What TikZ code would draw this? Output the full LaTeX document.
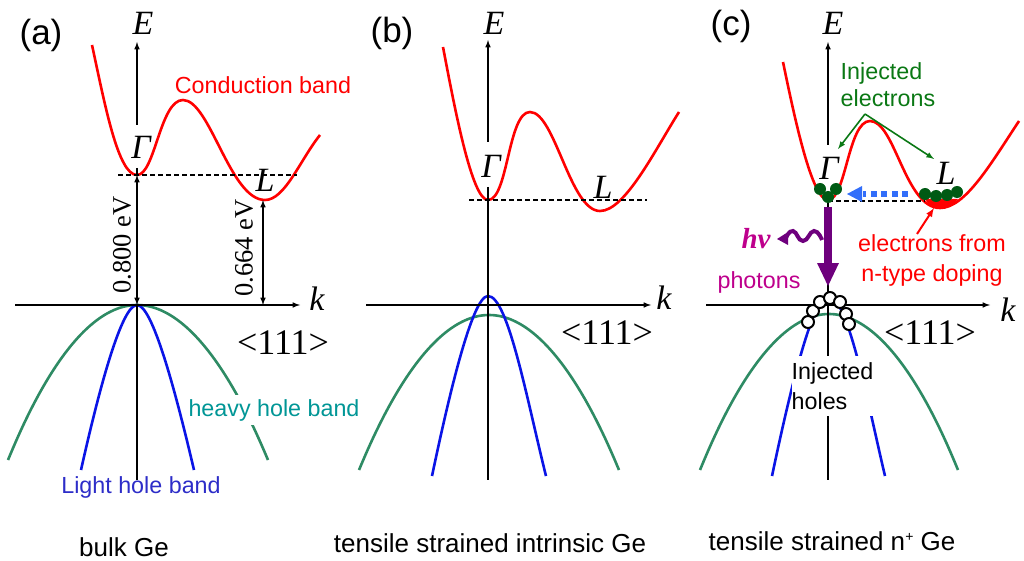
\documentclass[tikz,border=0pt]{standalone}
\usepackage{fontspec}
\setmainfont{Liberation Serif}
\setsansfont{Liberation Sans}
\usepackage{tikz}
\definecolor{hhgreen}{RGB}{46,139,100}
\definecolor{lhblue}{RGB}{10,20,230}
\definecolor{hhteal}{RGB}{0,150,150}
\definecolor{lhtext}{RGB}{45,45,200}
\definecolor{injgreen}{RGB}{10,120,20}
\definecolor{dotgreen}{RGB}{0,90,20}
\definecolor{emitpurple}{RGB}{110,0,125}
\definecolor{hvpink}{RGB}{190,0,140}
\definecolor{shiftblue}{RGB}{50,110,250}
\tikzset{
  axis/.style = {-latex, line width = 1.5pt},
  plainaxis/.style = {line width = 1.5pt},
  gap/.style = {latex-latex, line width = 1.5pt},
  level/.style = {line width = 1.2pt, dash pattern = on 5pt off 3pt},
  cband/.style = {red, line width = 2.6pt},
  hband/.style = {hhgreen, line width = 2.6pt},
  lband/.style = {lhblue, line width = 2.6pt},
  sanslabel/.style = {font = \sffamily\fontsize{23.3}{27}\selectfont, inner sep = 0pt},
  namelabel/.style = {font = \sffamily\fontsize{26}{30}\selectfont, inner sep = 0pt},
  seriflabel/.style = {font = \fontsize{26.5}{30}\selectfont, inner sep = 0pt},
  dirlabel/.style = {font = \fontsize{36}{40}\selectfont, inner sep = 0pt},
  symlabel/.style = {font = \itshape\fontsize{34}{38}\selectfont, inner sep = 0pt},
  panel/.style = {font = \sffamily\fontsize{35}{38}\selectfont, inner sep = 0pt},
  electron/.style = {circle, fill = dotgreen, inner sep = 0pt, minimum size = 12pt},
  hole/.style = {circle, draw = black, fill = white, line width = 2pt, inner sep = 0pt, minimum size = 12pt}
}
\begin{document}
\begin{tikzpicture}[x = 1pt, y = -1pt]
  \useasboundingbox (0, 0) rectangle (1024, 561);
  % panel a
  \coordinate (aTop) at (137, 42);
  \coordinate (aUp) at (137, 125);
  \coordinate (aTick) at (137, 168);
  \coordinate (aMin) at (137, 175);
  \coordinate (aOrg) at (137, 305);
  \coordinate (aLow) at (137, 480);
  \coordinate (aLeft) at (15, 305);
  \coordinate (aRight) at (300, 305);
  \coordinate (aLmin) at (263, 200);
  \coordinate (aLorg) at (263, 305);
  \coordinate (aDa) at (118, 175);
  \coordinate (aDb) at (297, 175);
  \coordinate (aHa) at (8, 460);
  \coordinate (aHb) at (268, 460);
  \coordinate (aLa) at (81, 470);
  \coordinate (aLb) at (194, 470);
  \draw[hband] (aHa) parabola bend (aOrg) (aHb);
  \draw[lband] (aLa) .. controls (100, 385) and (122, 305) .. (aOrg) .. controls (152, 305) and (174, 385) .. (aLb);
  \draw[cband] (92, 45) .. controls (105, 105) and (118, 175) .. (aMin) .. controls (155, 175) and (160, 100) .. (183, 100) .. controls (210, 100) and (230, 200) .. (265, 200) .. controls (285, 200) and (300, 160) .. (320, 135);
  \draw[axis] (aUp) -- (aTop);
  \draw[plainaxis] (aTick) -- (aMin);
  \draw[gap] (aMin) -- (aOrg);
  \draw[plainaxis] (aOrg) -- (aLow);
  \draw[axis] (aLeft) -- (aRight);
  \draw[gap] (aLmin) -- (aLorg);
  \draw[level] (aDa) -- (aDb);
  \node[panel] at (41, 35) (aTag) {(a)};
  \node[symlabel] at (143, 23) (aE) {E};
  \node[symlabel] at (141, 147) (aG) {Γ};
  \node[symlabel] at (265, 180) (aL) {L};
  \node[symlabel] at (317, 299) (aK) {k};
  \node[seriflabel, rotate = 90] at (122, 245) (aGap) {0.800 eV};
  \node[seriflabel, rotate = 90] at (244, 248) (aLgap) {0.664 eV};
  \node[dirlabel] at (283, 343) (aDir) {<111>};
  \node[sanslabel, red] at (263, 85) (aCb) {Conduction band};
  \node[sanslabel, hhteal, fill = white, minimum height = 30pt] at (274, 410) (aHh) {heavy hole band};
  \node[sanslabel, lhtext] at (141, 487) (aLh) {Light hole band};
  \node[namelabel] at (124, 547) (aName) {bulk Ge};
  % panel b
  \coordinate (bTop) at (488, 40);
  \coordinate (bUp) at (488, 142);
  \coordinate (bMid) at (488, 187);
  \coordinate (bMin) at (488, 200);
  \coordinate (bLow) at (488, 480);
  \coordinate (bLeft) at (366, 305);
  \coordinate (bRight) at (651, 305);
  \coordinate (bDa) at (469, 200);
  \coordinate (bDb) at (647, 200);
  \coordinate (bHa) at (359, 470);
  \coordinate (bHt) at (489, 315);
  \coordinate (bHb) at (619, 470);
  \coordinate (bLa) at (432, 476);
  \coordinate (bLt) at (488, 296);
  \coordinate (bLb) at (546, 476);
  \draw[hband] (bHa) parabola bend (bHt) (bHb);
  \draw[lband] (bLa) .. controls (448, 400) and (472, 296) .. (bLt) .. controls (508, 296) and (527, 400) .. (bLb);
  \draw[cband] (443, 47) .. controls (455, 110) and (472, 200) .. (bMin) .. controls (508, 200) and (508, 112) .. (530, 112) .. controls (555, 112) and (570, 211) .. (600, 211) .. controls (625, 211) and (655, 150) .. (679, 112);
  \draw[axis] (bUp) -- (bTop);
  \draw[plainaxis] (bMid) -- (bLow);
  \draw[axis] (bLeft) -- (bRight);
  \draw[level] (bDa) -- (bDb);
  \node[panel] at (392, 33) (bTag) {(b)};
  \node[symlabel] at (494, 23) (bE) {E};
  \node[symlabel] at (491, 166) (bG) {Γ};
  \node[symlabel] at (603, 187) (bL) {L};
  \node[symlabel] at (664, 298) (bK) {k};
  \node[dirlabel] at (607, 333) (bDir) {<111>};
  \node[namelabel] at (490, 543) (bName) {tensile strained intrinsic Ge};
  % panel c
  \coordinate (cTop) at (828, 42);
  \coordinate (cUp) at (828, 145);
  \coordinate (cEnd) at (828, 200);
  \coordinate (cBb) at (828, 480);
  \coordinate (cLeft) at (706, 305);
  \coordinate (cRight) at (990, 305);
  \coordinate (cDa) at (828, 201);
  \coordinate (cDb) at (925, 201);
  \coordinate (cHa) at (700, 470);
  \coordinate (cHt) at (829, 314);
  \coordinate (cHb) at (958, 470);
  \coordinate (cLa) at (772, 476);
  \coordinate (cLt) at (828, 296);
  \coordinate (cLb) at (885, 476);
  \coordinate (cSa) at (908, 194);
  \coordinate (cSb) at (847, 194);
  \coordinate (cPa) at (828, 207);
  \coordinate (cPb) at (828, 286);
  \coordinate (cFork) at (865, 114);
  \coordinate (cFa) at (838, 149);
  \coordinate (cFb) at (934, 159);
  \coordinate (cNa) at (917, 234);
  \coordinate (cNb) at (934, 208);
  \draw[hband] (cHa) parabola bend (cHt) (cHb);
  \draw[lband] (cLa) .. controls (788, 400) and (812, 296) .. (cLt) .. controls (848, 296) and (867, 400) .. (cLb);
  \draw[cband] (783, 62) .. controls (795, 120) and (812, 200) .. (cEnd) .. controls (846, 200) and (848, 121) .. (870, 121) .. controls (895, 121) and (905, 208) .. (940, 208) .. controls (965, 208) and (990, 165) .. (1019, 121);
  \fill[red] (925, 199) .. controls (932, 212) and (948, 212) .. (958, 199) -- cycle;
  \draw[axis] (cUp) -- (cTop);
  \draw[plainaxis] (cEnd) -- (cBb);
  \draw[axis] (cLeft) -- (cRight);
  \draw[level] (cDa) -- (cDb);
  \draw[-latex, injgreen, line width = 1.6pt] (cFork) -- (cFa);
  \draw[-latex, injgreen, line width = 1.6pt] (cFork) -- (cFb);
  \draw[-latex, red, line width = 2pt] (cNa) -- (cNb);
  \draw[shiftblue, line width = 6pt, dash pattern = on 6pt off 4.5pt] (cSa) -- (863, 194);
  \fill[shiftblue] (cSb) -- (862, 186) -- (862, 202) -- cycle;
  \draw[emitpurple, line width = 8pt] (cPa) -- (828, 264);
  \fill[emitpurple] (cPb) -- (817, 263) -- (839, 263) -- cycle;
  \draw[emitpurple, line width = 4pt] plot[smooth, tension = .9] coordinates {(822, 240) (814, 231) (803, 241) (793, 231) (786, 238)};
  \fill[emitpurple] (777, 239) -- (788, 232) -- (788, 245) -- cycle;
  \foreach \ex/\ey [count = \i] in {820/189, 836/189, 828/197, 925/194, 936/196, 947/195, 957/192}
  {
  \node[electron] at (\ex, \ey) (el\i) {};
  }
  \node[sanslabel, align = left, fill = white, minimum height = 60pt] at (832.5, 386) (cHo) {Injected\\[3pt]holes};
  \foreach \hx/\hy [count = \i] in {808/322, 813/311, 820/302, 830/298, 840/302, 846/314, 849/324}
  {
  \node[hole] at (\hx, \hy) (ho\i) {};
  }
  \node[panel] at (731, 26) (cTag) {(c)};
  \node[symlabel] at (833, 23) (cE) {E};
  \node[symlabel] at (829, 168) (cG) {Γ};
  \node[symlabel] at (946, 173) (cL) {L};
  \node[symlabel] at (1008, 310) (cK) {k};
  \node[dirlabel] at (930, 333) (cDir) {<111>};
  \node[sanslabel, injgreen, align = left] at (888, 85) (cInj) {Injected\\electrons};
  \node[sanslabel, red, align = center] at (932, 260) (cDop) {electrons from\\[3pt]n-type doping};
  \node[font = \bfseries\itshape\fontsize{29}{32}\selectfont, hvpink, inner sep = 0pt] at (756, 239) (cHv) {hv};
  \node[sanslabel, hvpink] at (759, 282) (cPh) {photons};
  \node[namelabel] at (832, 541) (cName) {tensile strained n\raisebox{9pt}{\fontsize{14}{14}\selectfont +} Ge};
\end{tikzpicture}
\end{document}
